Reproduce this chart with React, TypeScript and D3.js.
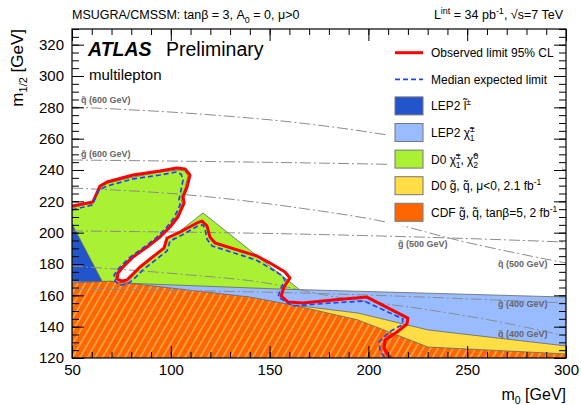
import React, { useEffect, useRef } from 'react';
import * as d3 from 'd3';

type P = [number, number];

const xMajor = [50, 100, 150, 200, 250, 300];
const yMajor = [120, 140, 160, 180, 200, 220, 240, 260, 280, 300, 320];

// excluded regions, points are (m0, m1/2) in GeV
const d0Chargino: P[] = [
  [50, 215.7], [60.1, 219.6], [64.7, 229.1], [68.2, 231.7], [80.9, 235.5], [94.5, 238.7],
  [103.6, 240.0], [107.2, 239.4], [108.7, 236.2], [107.2, 228.5], [105.2, 222.1], [105.7, 218.3],
  [102.6, 210.0], [98.6, 203.6], [93.5, 197.2], [86.9, 190.8], [79.9, 184.5], [74.8, 178.1],
  [72.3, 173.6], [71.8, 167.9], [77.8, 167.9], [84.4, 177.4], [92.0, 185.1], [96.6, 189.6],
  [98.1, 196.0], [104.7, 201.1], [116.3, 212.6], [165.4, 163.4], [50, 163.4],
];
const lep2Slepton: P[] = [[50, 205.5], [65.7, 167.9], [66.5, 166.0], [50, 166.0]];
const lep2Chargino: P[] = [[50, 169.1], [155.3, 164.0], [300, 158.9], [300, 120], [50, 120]];
const d0Squark: P[] = [[161.8, 153.8], [194.7, 148.7], [230.2, 137.9], [300, 127.7], [300, 120], [161.8, 120]];
const cdfSquark: P[] = [
  [50, 167.9], [69.2, 169.1], [140.1, 158.9], [161.8, 153.8], [194.7, 144.3],
  [230.2, 127.0], [300, 122.6], [300, 120], [50, 120],
];

// limits
const observed: P[] = [
  [50, 217.0], [60.6, 219.6], [64.2, 229.8], [67.7, 232.3], [80.9, 236.8], [94.5, 239.4],
  [103.1, 241.3], [107.2, 240.6], [109.7, 236.8], [108.2, 229.1], [106.2, 222.8], [106.7, 218.9],
  [103.6, 210.0], [99.6, 203.6], [94.5, 197.2], [88.0, 190.8], [80.9, 184.5], [75.8, 178.1],
  [73.3, 174.3], [72.8, 170.4], [75.3, 169.1], [77.8, 169.8], [84.4, 178.1], [92.0, 185.7],
  [96.6, 190.2], [98.1, 196.6], [104.7, 200.4], [113.3, 206.2], [115.8, 207.4], [118.3, 204.3],
  [119.8, 197.2], [122.4, 193.4], [143.6, 185.1], [150.2, 180.6], [157.8, 174.9], [160.3, 171.1],
  [157.3, 165.3], [155.8, 159.6], [159.3, 155.7], [166.9, 155.1], [182.1, 157.0], [199.3, 158.9],
  [220.0, 145.5], [219.5, 141.7], [214.5, 136.6], [208.4, 131.5], [207.9, 126.4], [209.9, 121.9],
  [211.4, 120],
];
const expected: P[] = [
  [50, 214.5], [60.1, 217.7], [63.7, 227.2], [67.7, 229.8], [80.9, 234.3], [94.5, 236.8],
  [102.6, 238.7], [105.2, 237.4], [106.2, 233.6], [105.2, 227.2], [104.1, 220.8], [104.7, 217.7],
  [101.6, 209.4], [97.6, 203.0], [92.5, 196.6], [85.9, 190.2], [78.8, 183.8], [73.8, 177.4],
  [71.3, 173.0], [71.8, 169.1], [74.3, 166.6], [78.3, 167.2], [82.4, 171.7], [85.9, 176.2],
  [93.5, 183.8], [98.1, 188.3], [99.6, 194.7], [105.7, 198.5], [113.8, 204.3], [116.3, 204.9],
  [117.3, 202.3], [118.3, 195.9], [120.9, 191.5], [143.1, 182.6], [149.2, 178.1], [155.8, 173.0],
  [157.8, 169.8], [155.3, 163.4], [154.3, 158.9], [161.8, 153.2], [180.6, 155.1], [197.8, 156.4],
  [217.5, 144.9], [217.0, 141.1], [210.4, 136.6], [205.4, 130.2], [205.9, 124.5], [208.4, 120],
];

// iso-mass contours
const squark600: P[] = [[50, 280.2], [114.8, 275.7], [165.4, 270.0], [209.9, 262.3], [251.4, 252.8], [300, 240.0]];
const gluino600: P[] = [[50, 246.4], [170.4, 244.5], [300, 241.3]];
const squark500: P[] = [[50, 228.5], [109.7, 224.0], [165.4, 215.7], [211.0, 206.2], [244.8, 195.3], [300, 180.6]];
const gluino500: P[] = [[50, 201.1], [165.4, 199.1], [241.3, 196.6], [300, 194.0]];
const squark400: P[] = [[50, 178.7], [109.7, 173.0], [145.1, 168.5], [180.6, 159.6], [231.2, 150.6], [266.6, 143.0], [300, 134.0]];
const gluino400: P[] = [[50, 164.0], [165.4, 161.5], [300, 155.1]];

const isoLabels = ['q\u0303 (600 GeV)', 'g\u0303 (600 GeV)', 'g\u0303 (500 GeV)', 'q\u0303 (500 GeV)', 'g\u0303 (400 GeV)', 'q\u0303 (400 GeV)'];
const isoLabelAt: P[] = [[54.6, 282.8], [54.6, 248.3], [215.0, 190.8], [265.6, 178.1], [265.6, 152.6], [265.6, 133.4]];

type Part = [string, string, string?];
const legendParts: Part[][] = [
  [['n', 'Observed limit 95% CL']],
  [['n', 'Median expected limit']],
  [['n', 'LEP2 l\u0303'], ['sup', '\u00b1']],
  [['n', 'LEP2 \u03c7\u0303'], ['ss', '\u00b1', '1']],
  [['n', 'D0 \u03c7\u0303'], ['ss', '\u00b1', '1'], ['n', ', \u03c7\u0303'], ['ss', '0', '2']],
  [['n', 'D0 g\u0303, q\u0303, \u03bc<0, 2.1 fb'], ['sup', '-1']],
  [['n', 'CDF g\u0303, q\u0303, tan\u03b2=5, 2 fb'], ['sup', '-1']],
];
const legendFills = ['', '', '#2255cc', '#99bbff', '#aaf033', '#ffdd44', '#ff6600'];

const font = "'Liberation Sans', Arial, Helvetica, sans-serif";

function rich(text: any, parts: Part[], small: number) {
  let off = 0;
  parts.forEach((p) => {
    if (p[0] === 'n') {
      text.append('tspan').attr('dy', -off).text(p[1]);
      off = 0;
    } else if (p[0] === 'sup') {
      text.append('tspan').attr('dy', -5 - off).attr('font-size', small).text(p[1]);
      off = -5;
    } else if (p[0] === 'sub') {
      text.append('tspan').attr('dy', 4 - off).attr('font-size', small).text(p[1]);
      off = 4;
    } else {
      text.append('tspan').attr('dy', -5 - off).attr('font-size', small).text(p[1]);
      text.append('tspan').attr('dx', -small * 0.58).attr('dy', 9).attr('font-size', small).text(p[2]);
      off = 4;
    }
  });
}

const App = () => {
  const svgRef = useRef<SVGSVGElement>(null);

  useEffect(() => {
    const svg = d3.select(svgRef.current);
    svg.selectAll('*').remove();
    svg.attr('font-family', font);

    const x = d3.scaleLinear().domain([50, 300]).range([72, 566]);
    const y = d3.scaleLinear().domain([120, 330]).range([358, 29]);
    const [x0, x1] = x.range();
    const [y1, y0] = y.range();

    const defs = svg.append('defs');
    defs.append('clipPath').attr('id', 'plotclip')
      .append('rect').attr('x', x0).attr('y', y0).attr('width', x1 - x0).attr('height', y1 - y0);
    const pat = defs.append('pattern').attr('id', 'hatch')
      .attr('patternUnits', 'userSpaceOnUse').attr('width', 6.5).attr('height', 6.5)
      .attr('patternTransform', 'rotate(30)');
    pat.append('rect').attr('width', 6.5).attr('height', 6.5).attr('fill', '#ff6600');
    pat.append('line').attr('x1', 1).attr('y1', 0).attr('x2', 1).attr('y2', 6.5)
      .attr('stroke', '#ffd080').attr('stroke-width', 1);

    const line = d3.line<P>().x((d) => x(d[0])).y((d) => y(d[1]));
    const smooth = d3.line<P>().x((d) => x(d[0])).y((d) => y(d[1])).curve(d3.curveMonotoneX);

    const plot = svg.append('g').attr('clip-path', 'url(#plotclip)');

    const regions: [P[], string][] = [
      [d0Chargino, '#aaf033'],
      [lep2Slepton, '#2255cc'],
      [lep2Chargino, '#99bbff'],
      [d0Squark, '#ffdd44'],
      [cdfSquark, 'url(#hatch)'],
    ];
    regions.forEach(([pts, fill]) => {
      plot.append('path').attr('d', line(pts) + 'Z')
        .attr('fill', fill).attr('stroke', '#666').attr('stroke-width', 0.8);
    });

    [squark600, gluino600, squark500, gluino500, squark400, gluino400].forEach((pts) => {
      plot.append('path').attr('d', smooth(pts))
        .attr('fill', 'none').attr('stroke', '#8c8c8c').attr('stroke-width', 1)
        .attr('stroke-dasharray', '11,3,2,3');
    });

    isoLabels.forEach((t, i) => {
      plot.append('text').attr('x', x(isoLabelAt[i][0])).attr('y', y(isoLabelAt[i][1]))
        .attr('font-size', 9).attr('font-weight', 'bold').attr('fill', '#666').text(t);
    });

    plot.append('path').attr('d', line(observed))
      .attr('fill', 'none').attr('stroke', '#ff0000').attr('stroke-width', 3)
      .attr('stroke-linejoin', 'round');
    plot.append('path').attr('d', line(expected))
      .attr('fill', 'none').attr('stroke', '#2244ee').attr('stroke-width', 1.7)
      .attr('stroke-dasharray', '5,3');

    // legend
    const leg = svg.append('g');
    leg.append('rect').attr('x', 388).attr('y', 38).attr('width', 174).attr('height', 188).attr('fill', '#fff');
    legendParts.forEach((parts, i) => {
      const cy = 52.7 + i * 26.6;
      if (i === 0) {
        leg.append('line').attr('x1', 395).attr('x2', 423).attr('y1', cy).attr('y2', cy)
          .attr('stroke', '#ff0000').attr('stroke-width', 3);
      } else if (i === 1) {
        leg.append('line').attr('x1', 395).attr('x2', 423).attr('y1', cy).attr('y2', cy)
          .attr('stroke', '#2244ee').attr('stroke-width', 1.7).attr('stroke-dasharray', '5,3');
      } else {
        leg.append('rect').attr('x', 395).attr('y', cy - 9).attr('width', 28).attr('height', 18)
          .attr('fill', legendFills[i]).attr('stroke', '#777').attr('stroke-width', 1);
      }
      const t = leg.append('text').attr('x', 431).attr('y', cy + 4.5).attr('font-size', 12).attr('fill', '#000');
      rich(t, parts, 8.5);
    });

    // axes: ticks pointing inwards on all four sides
    const styleAxis = (g: any) => {
      g.select('.domain').remove();
      g.attr('font-family', font).attr('font-size', 15);
      g.selectAll('.tick line').attr('stroke', '#000');
      g.selectAll('.tick text').attr('fill', '#000');
    };
    const minorX = d3.range(50, 301, 10);
    const minorY = d3.range(120, 331, 5);
    svg.append('g').attr('transform', `translate(0,${y1})`)
      .call(d3.axisBottom(x).tickValues(minorX).tickSize(-6).tickFormat(() => '')).call(styleAxis);
    svg.append('g').attr('transform', `translate(0,${y1})`)
      .call(d3.axisBottom(x).tickValues(xMajor).tickSize(-12).tickPadding(6).tickFormat(d3.format('d'))).call(styleAxis);
    svg.append('g').attr('transform', `translate(0,${y0})`)
      .call(d3.axisTop(x).tickValues(minorX).tickSize(-6).tickFormat(() => '')).call(styleAxis);
    svg.append('g').attr('transform', `translate(0,${y0})`)
      .call(d3.axisTop(x).tickValues(xMajor).tickSize(-12).tickFormat(() => '')).call(styleAxis);
    svg.append('g').attr('transform', `translate(${x0},0)`)
      .call(d3.axisLeft(y).tickValues(minorY).tickSize(-7).tickFormat(() => '')).call(styleAxis);
    svg.append('g').attr('transform', `translate(${x0},0)`)
      .call(d3.axisLeft(y).tickValues(yMajor).tickSize(-12).tickPadding(8).tickFormat(d3.format('d'))).call(styleAxis);
    svg.append('g').attr('transform', `translate(${x1},0)`)
      .call(d3.axisRight(y).tickValues(minorY).tickSize(-7).tickFormat(() => '')).call(styleAxis);
    svg.append('g').attr('transform', `translate(${x1},0)`)
      .call(d3.axisRight(y).tickValues(yMajor).tickSize(-12).tickFormat(() => '')).call(styleAxis);

    svg.append('rect').attr('x', x0).attr('y', y0).attr('width', x1 - x0).attr('height', y1 - y0)
      .attr('fill', 'none').attr('stroke', '#000').attr('stroke-width', 1.2);

    // titles
    const xt = svg.append('text').attr('x', x1).attr('y', 400).attr('text-anchor', 'end').attr('font-size', 16);
    rich(xt, [['n', 'm'], ['sub', '0'], ['n', ' [GeV]']], 10.5);
    const yt = svg.append('text').attr('transform', `translate(23,${y0}) rotate(-90)`)
      .attr('text-anchor', 'end').attr('font-size', 17);
    rich(yt, [['n', 'm'], ['sub', '1/2'], ['n', ' [GeV]']], 11);

    const h1 = svg.append('text').attr('x', x0).attr('y', 19).attr('font-size', 12.5);
    rich(h1, [['n', 'MSUGRA/CMSSM: tan\u03b2 = 3, A'], ['sub', '0'], ['n', ' = 0, \u03bc>0']], 9);
    const h2 = svg.append('text').attr('x', 563).attr('y', 19).attr('font-size', 12.5).attr('text-anchor', 'end');
    rich(h2, [['n', 'L'], ['sup', 'int'], ['n', ' = 34 pb'], ['sup', '-1'], ['n', ', \u221as=7 TeV']], 9);

    svg.append('text').attr('x', 88).attr('y', 56).attr('font-size', 19.5)
      .attr('font-weight', 'bold').attr('font-style', 'italic').text('ATLAS');
    svg.append('text').attr('x', 166).attr('y', 56).attr('font-size', 19.5).text('Preliminary');
    svg.append('text').attr('x', 89).attr('y', 80).attr('font-size', 15).text('multilepton');
  }, []);

  return (
    <svg
      ref={svgRef}
      width={581}
      height={405}
      style={{ position: 'absolute', left: 0, top: 0, background: '#fff' }}
    />
  );
};

export default App;
